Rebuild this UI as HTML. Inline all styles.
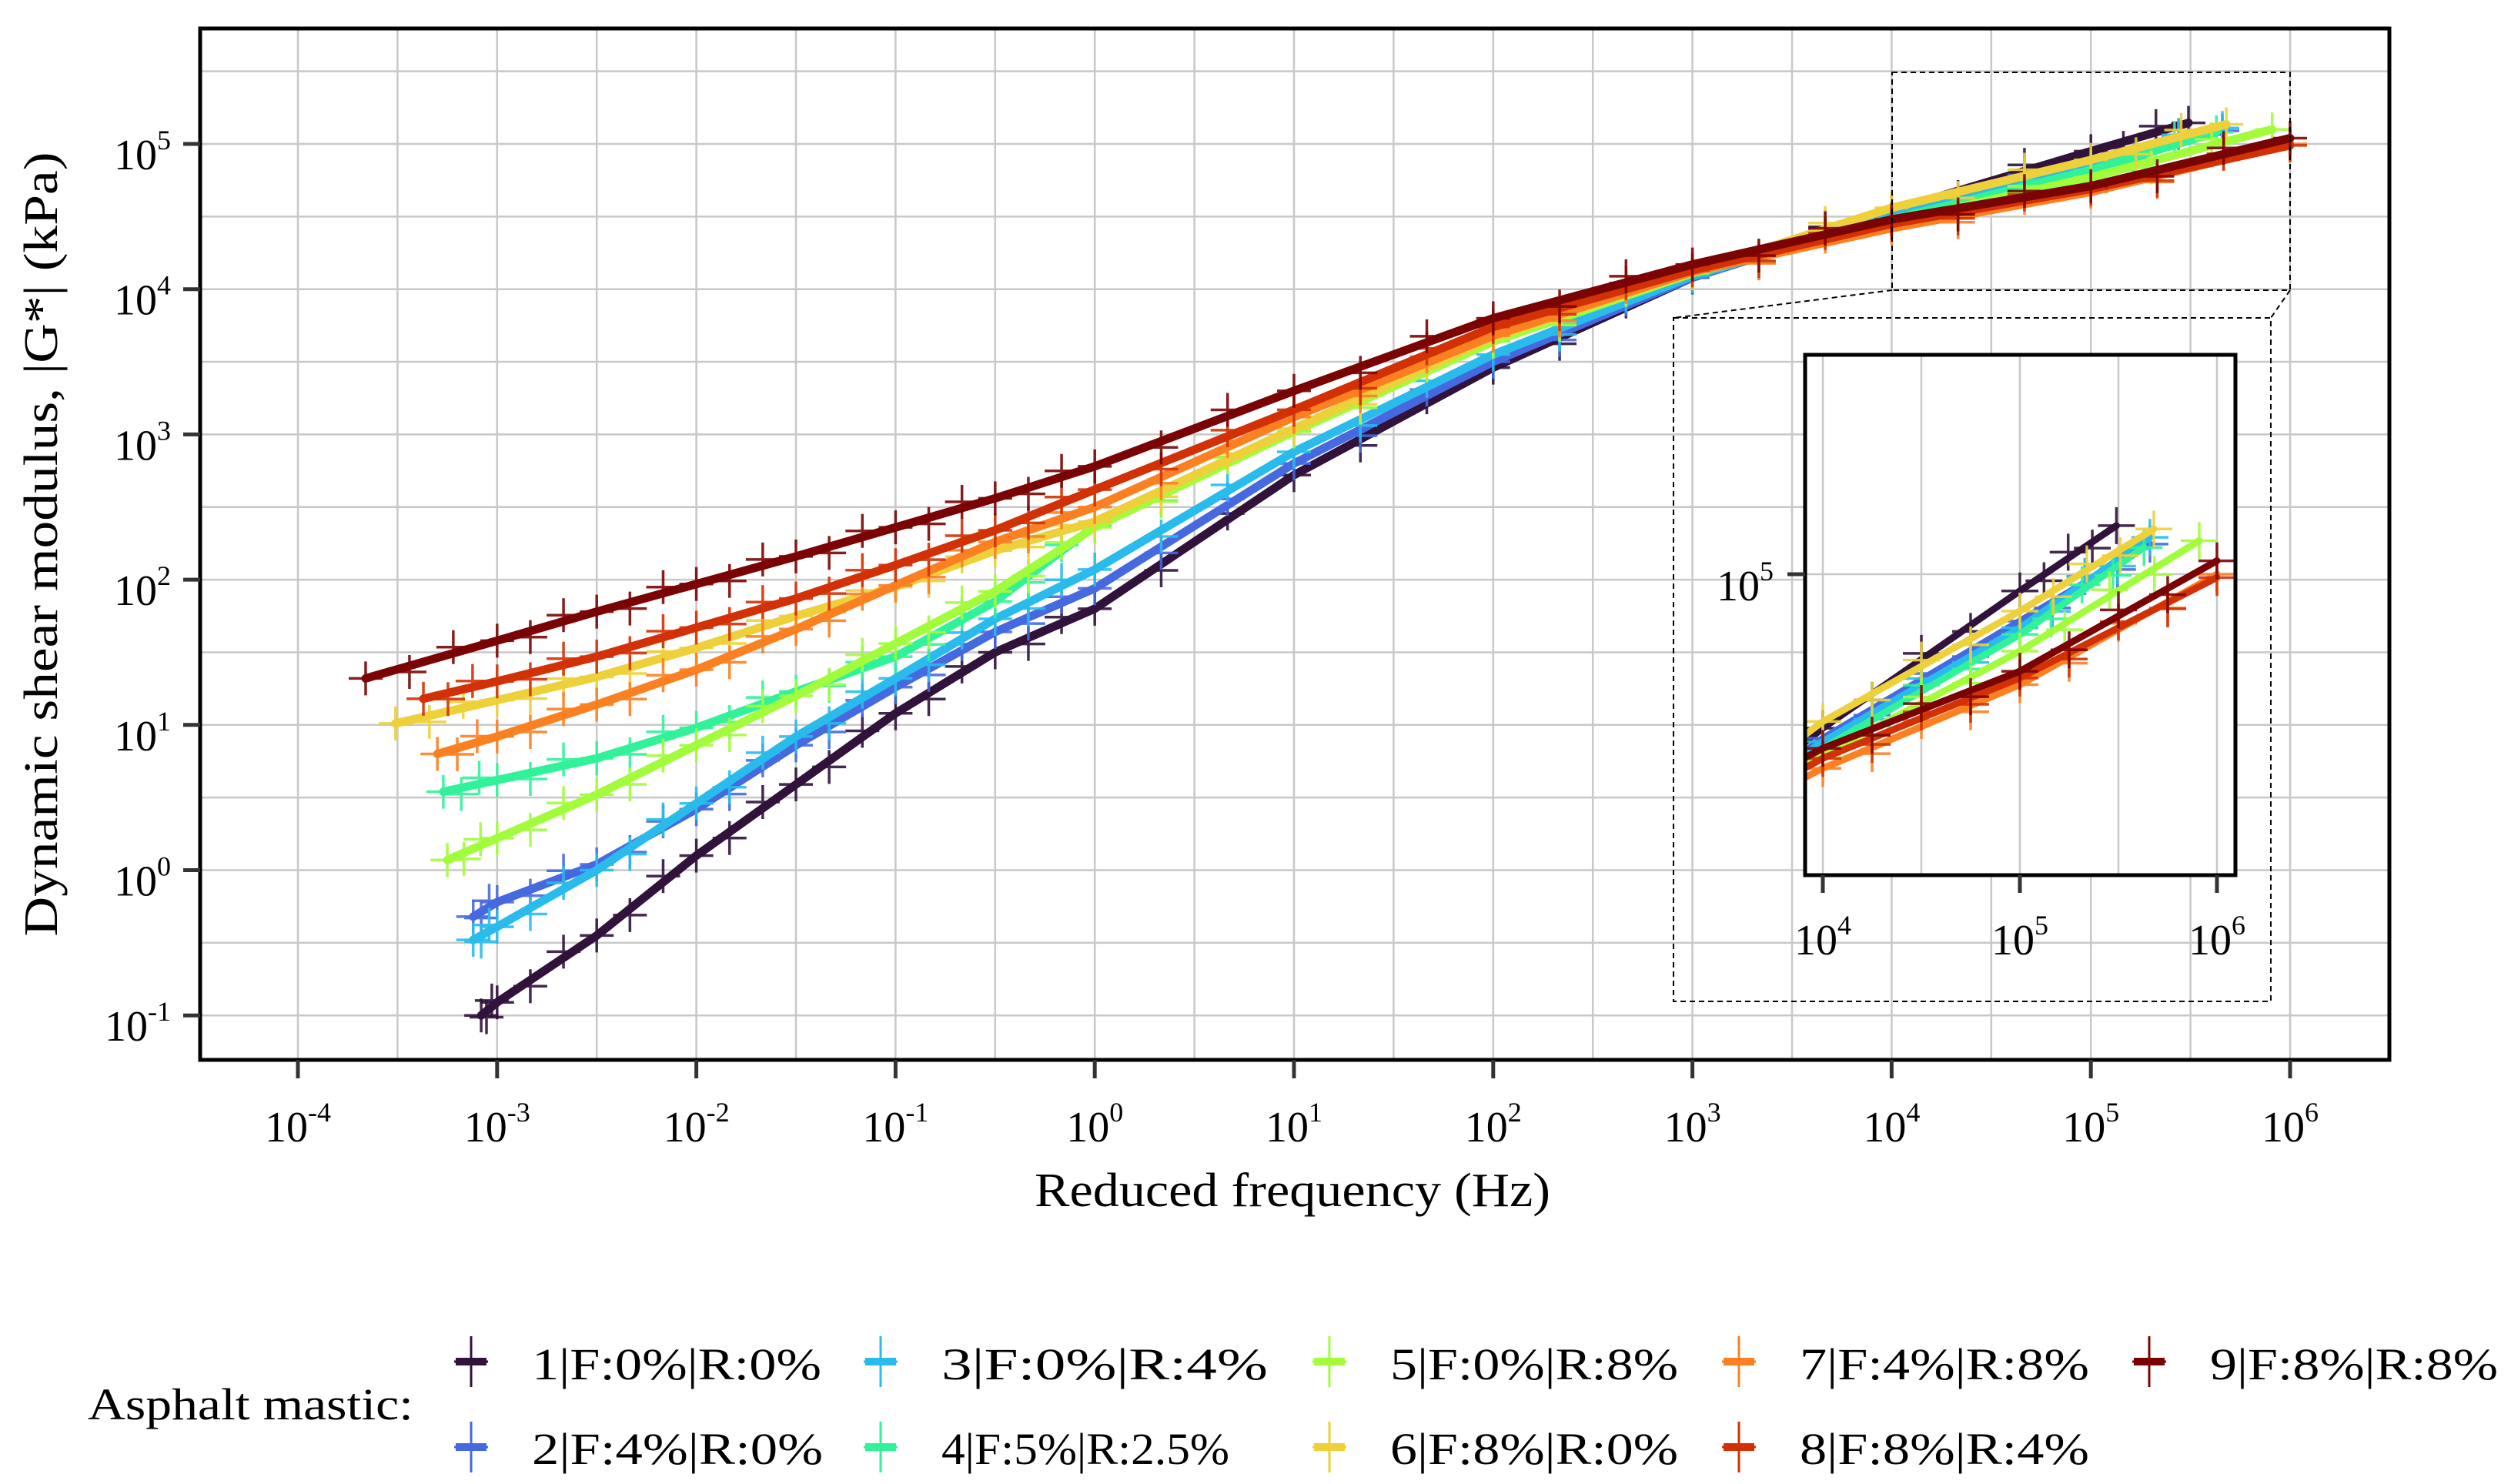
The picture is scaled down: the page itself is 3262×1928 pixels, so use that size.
<!DOCTYPE html>
<html><head><meta charset="utf-8"><style>
html,body{margin:0;padding:0;background:#fff;overflow:hidden;width:3262px;height:1928px;}
svg{position:absolute;left:0;top:0;display:block;font-family:"Liberation Serif",serif;}
</style></head><body>
<svg id="chart" width="3262" height="1928" viewBox="0 0 3262 1928" xmlns="http://www.w3.org/2000/svg">
<defs>
<clipPath id="mainClip"><rect x="262" y="38" width="2840" height="1337"/></clipPath>
<clipPath id="insetClip"><rect x="2347" y="463" width="555" height="672"/></clipPath>
</defs>
<rect x="0" y="0" width="3262" height="1928" fill="#fff"/>
<g id="grid"></g>
<g id="series" clip-path="url(#mainClip)"></g>
<rect x="260" y="37" width="2844" height="1340" fill="none" stroke="#000" stroke-width="5"/>
<g id="axes"></g>
<g fill="none" stroke="#000" stroke-width="2" stroke-dasharray="7,5">
<rect x="2458" y="94" width="517" height="283"/>
<rect x="2174" y="413" width="776" height="888"/>
<line x1="2458" y1="377" x2="2174" y2="413"/>
<line x1="2975" y1="377" x2="2950" y2="413"/>
</g>
<rect x="2345" y="461" width="559" height="676" fill="#fff"/>
<g id="igrid"></g>
<g id="iseries" clip-path="url(#insetClip)"></g>
<rect x="2345" y="461" width="559" height="676" fill="none" stroke="#000" stroke-width="5"/>
<g id="iaxes"></g>
<text x="1679" y="1567" font-size="62" text-anchor="middle" textLength="670" lengthAdjust="spacingAndGlyphs">Reduced frequency (Hz)</text>
<text transform="translate(74,707) rotate(-90)" font-size="62" text-anchor="middle" textLength="1019" lengthAdjust="spacingAndGlyphs">Dynamic shear modulus, |G*| (kPa)</text>
<g id="legend">
<text x="114" y="1844" font-size="58" textLength="423" lengthAdjust="spacingAndGlyphs">Asphalt mastic:</text>
</g>
</svg>
<script>
const seriesNames = ["1|F:0%|R:0%","2|F:4%|R:0%","3|F:0%|R:4%","4|F:5%|R:2.5%","5|F:0%|R:8%","6|F:8%|R:0%","7|F:4%|R:8%","8|F:8%|R:4%","9|F:8%|R:8%"];
const seriesColors = ["#30123b","#4669e0","#29bbec","#31f299","#a2fc3c","#edd03a","#fb8022","#d23105","#7a0403"];
const midFreqs = [-3,-2.5,-2,-1.5,-1,-0.5,0,1,2,3,4,5];
const startFreqs = [-3.08,-3.12,-3.12,-3.27,-3.25,-3.51,-3.3,-3.37,-3.66];
const endFreqs = [5.49,5.66,5.66,5.63,5.91,5.68,6.0,6.0,6.0];
const s1 = [-1.0,-0.91,-0.45,0.1,0.59,1.08,1.5,1.8,2.72,3.46,4.08,4.54,4.95,5.145];
const s2 = [-0.32,-0.22,0.04,0.42,0.86,1.26,1.64,1.94,2.8,3.5,4.08,4.51,4.86,5.09];
const s3 = [-0.48,-0.39,0.0,0.46,0.92,1.32,1.73,2.07,2.88,3.55,4.09,4.5,4.84,5.11];
const s4 = [0.54,0.62,0.77,0.98,1.23,1.47,1.85,2.37,3.02,3.64,4.11,4.48,4.82,5.08];
const s5 = [0.07,0.22,0.52,0.86,1.2,1.56,1.92,2.36,3.02,3.64,4.11,4.46,4.77,5.10];
const s6 = [1.01,1.17,1.33,1.53,1.75,1.95,2.2,2.4,3.04,3.67,4.12,4.56,4.89,5.135];
const s7 = [0.8,0.92,1.14,1.38,1.66,1.96,2.26,2.5,3.12,3.68,4.12,4.42,4.67,5.0];
const s8 = [1.18,1.3,1.47,1.67,1.87,2.1,2.34,2.62,3.17,3.74,4.13,4.45,4.69,4.99];
const s9 = [1.32,1.58,1.78,1.97,2.16,2.36,2.56,2.78,3.3,3.8,4.17,4.48,4.71,5.04];
const seriesVals = [s1,s2,s3,s4,s5,s6,s7,s8,s9];
const xTicks = [-4,-3,-2,-1,0,1,2,3,4,5,6];
const yTicks = [-1,0,1,2,3,4,5];
const insetXTicks = [4,5,6];
const insetYTicks = [5];

const NS="http://www.w3.org/2000/svg";
function mk(tag,attrs,parent){const e=document.createElementNS(NS,tag);for(const k in attrs)e.setAttribute(k,attrs[k]);parent.appendChild(e);return e;}
const X = f => 387 + (f+4)*258.8;
const Y = g => 187 + (5-g)*188.7;
const IX = f => 2368 + (f-4)*256;
const IY = g => 746 + (5-g)*435;

const grid=document.getElementById('grid');
for(let f=-4.5;f<=6.5;f+=0.5){const x=X(f);if(x<262||x>3102)continue;
 const l=mk('line',{x1:x,x2:x,y1:37,y2:1377,stroke:'#c8c8c8','stroke-width':2.5},grid);
 }
for(let g=-1.5;g<=6;g+=0.5){const y=Y(g);if(y<38||y>1375)continue;
 const l=mk('line',{x1:260,x2:3104,y1:y,y2:y,stroke:'#c8c8c8','stroke-width':2.5},grid);
 }

function pts(i){const fs=[startFreqs[i]].concat(midFreqs,[endFreqs[i]]);return fs.map((f,j)=>[f,seriesVals[i][j]]);}
function cross(g,x,y,msz,col){
 const m=mk('path',{d:`M${x-msz} ${y}H${x+msz}M${x} ${y-msz}V${y+msz}`,stroke:col,'stroke-width':3.5,fill:'none','stroke-opacity':0.9},g);
 }
function drawSeries(parent,xf,yf,msz,lw,sub){
 seriesVals.forEach((vals,i)=>{
  const g=mk('g',{},parent);
  
  
  const p=pts(i);
  p.forEach(([f,v],j)=>{const x=xf(f),y=yf(v);cross(g,x,y,msz,seriesColors[i]);
   if(j<p.length-1){const x2=xf(p[j+1][0]),y2=yf(p[j+1][1]);
    for(let k=1;k<sub;k++){const t=k/sub;cross(g,x+(x2-x)*t,y+(y2-y)*t+((k%2)?8:-8),msz,seriesColors[i]);}}});
  const d=p.map(([f,v],j)=>(j?'L':'M')+xf(f).toFixed(1)+' '+yf(v).toFixed(1)).join('');
  const ln=mk('path',{d:d,stroke:seriesColors[i],'stroke-width':lw,fill:'none','stroke-linejoin':'round','stroke-linecap':'round'},g);
  
 });
}
drawSeries(document.getElementById('series'),X,Y,22,11,3);

const axes=document.getElementById('axes');
xTicks.forEach(t=>{const x=X(t);
 const tk=mk('line',{x1:x,x2:x,y1:1377,y2:1401,stroke:'#333','stroke-width':5},axes);
 
 const tx=mk('text',{x:x,y:1483,'font-size':56,'text-anchor':'middle'},axes);
 
 tx.innerHTML='10<tspan font-size="36" dy="-26">'+t+'</tspan>';});
yTicks.forEach(t=>{const y=Y(t);
 const tk=mk('line',{x1:238,x2:260,y1:y,y2:y,stroke:'#333','stroke-width':5},axes);
 
 const tx=mk('text',{x:222,y:y+33,'font-size':56,'text-anchor':'end'},axes);
 
 tx.innerHTML='10<tspan font-size="36" dy="-26">'+t+'</tspan>';});

const ig=document.getElementById('igrid');
[4,4.5,5,5.5,6].forEach(f=>{const x=IX(f);
 const l=mk('line',{x1:x,x2:x,y1:461,y2:1137,stroke:'#c8c8c8','stroke-width':2.5},ig);
 });
insetYTicks.forEach(g=>{const y=IY(g);
 const l=mk('line',{x1:2345,x2:2904,y1:y,y2:y,stroke:'#c8c8c8','stroke-width':2.5},ig);
 });
drawSeries(document.getElementById('iseries'),IX,IY,24,9,4);
const ia=document.getElementById('iaxes');
insetXTicks.forEach(t=>{const x=IX(t);
 const tk=mk('line',{x1:x,x2:x,y1:1137,y2:1160,stroke:'#333','stroke-width':5},ia);
 
 const tx=mk('text',{x:x,y:1240,'font-size':56,'text-anchor':'middle'},ia);
 
 tx.innerHTML='10<tspan font-size="36" dy="-26">'+t+'</tspan>';});
insetYTicks.forEach(t=>{const y=IY(t);
 const tk=mk('line',{x1:2322,x2:2345,y1:y,y2:y,stroke:'#333','stroke-width':5},ia);
 
 const tx=mk('text',{x:2304,y:y+34,'font-size':56,'text-anchor':'end'},ia);
 
 tx.innerHTML='10<tspan font-size="36" dy="-26">'+t+'</tspan>';});

const leg=document.getElementById('legend');
const colKey=[612,1144,1727,2259,2792];
const colText=[691,1223,1806,2338,2871];
const textW=[376,378,424,374,374,374,376,376,374];
seriesNames.forEach((n,i)=>{const c=Math.floor(i/2),r=i%2;
 const cy=r?1880:1769;
 const g=mk('g',{},leg);
 
 const k=mk('path',{d:`M${colKey[c]-22} ${cy}H${colKey[c]+22}M${colKey[c]} ${cy-33}V${cy+33}`,stroke:seriesColors[i],'stroke-width':3,fill:'none'},g);
 
 const k2=mk('line',{x1:colKey[c]-20,x2:colKey[c]+20,y1:cy,y2:cy,stroke:seriesColors[i],'stroke-width':10},g);
 
 const t=mk('text',{x:colText[c],y:r?1902:1792,'font-size':58,textLength:textW[i],lengthAdjust:'spacingAndGlyphs'},g);
 
 t.textContent=n;});
</script>
</body></html>
